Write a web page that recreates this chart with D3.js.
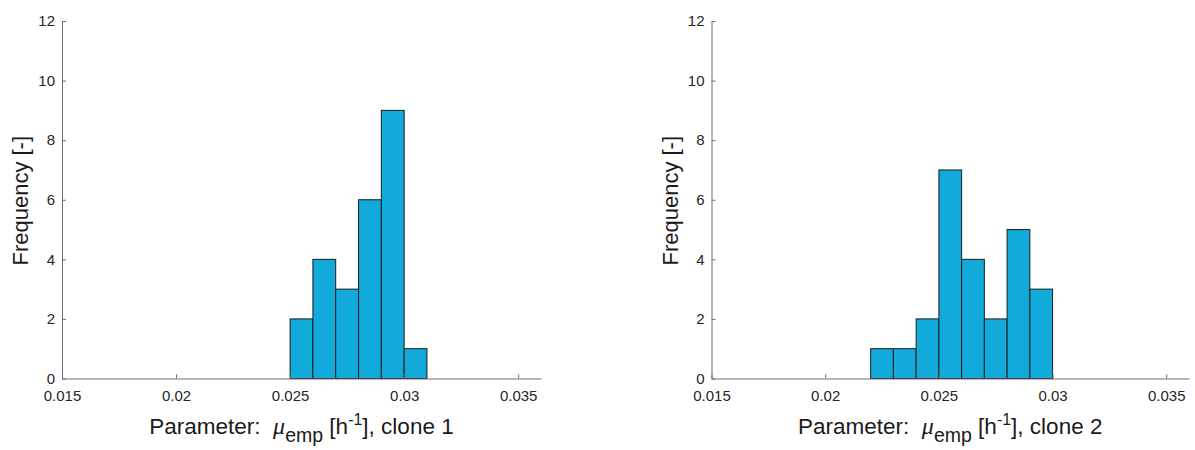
<!DOCTYPE html>
<html>
<head>
<meta charset="utf-8">
<script src="https://cdn.jsdelivr.net/npm/d3@7"></script>
<style>
  html, body { margin: 0; padding: 0; background: #fff; }
  svg { display: block; }
  text { font-family: "Liberation Sans", Arial, Helvetica, sans-serif; white-space: pre; }
</style>
</head>
<body>
<svg id="chart" width="1195" height="450"></svg>
<script>
// Histogram bin edges and counts, one set per clone
const binEdges1 = [0.025, 0.026, 0.027, 0.028, 0.029, 0.030, 0.031];
const counts1   = [2, 4, 3, 6, 9, 1];
const binEdges2 = [0.022, 0.023, 0.024, 0.025, 0.026, 0.027, 0.028, 0.029, 0.030];
const counts2   = [1, 1, 2, 7, 4, 2, 5, 3];

const xTicks = [0.015, 0.02, 0.025, 0.03, 0.035];
const xTickLabels = ["0.015", "0.02", "0.025", "0.03", "0.035"];
const yTicks = [0, 2, 4, 6, 8, 10, 12];
const xDomain = [0.015, 0.036];
const yDomain = [0, 12];
const cloneNames = ["clone 1", "clone 2"];

const svg = d3.select("#chart");

const panels = [
  { edges: binEdges1, counts: counts1, name: cloneNames[0], left: 62,    right: 541,  ylabX: 28 },
  { edges: binEdges2, counts: counts2, name: cloneNames[1], left: 711.5, right: 1189, ylabX: 678 }
];

const plotTop = 21, plotBottom = 378.5;
const axisColor = "#6e6e6e";
const barFill = "#12a9db";

panels.forEach(p => {
  const x = d3.scaleLinear().domain(xDomain).range([p.left, p.right]);
  const y = d3.scaleLinear().domain(yDomain).range([plotBottom, plotTop]);
  const g = svg.append("g");

  // bars
  const bins = p.counts.map((c, i) => ({ x0: p.edges[i], x1: p.edges[i + 1], n: c }));
  g.selectAll("rect.bar").data(bins).join("rect")
    .attr("class", "bar")
    .attr("x", d => x(d.x0))
    .attr("y", d => y(d.n))
    .attr("width", d => x(d.x1) - x(d.x0))
    .attr("height", d => y(0) - y(d.n))
    .attr("fill", barFill)
    .attr("stroke", "#1c1c1c")
    .attr("stroke-width", 1);

  // x axis (ticks pointing inward)
  const xAxis = d3.axisBottom(x).tickValues(xTicks)
    .tickFormat((d, i) => xTickLabels[i]).tickSizeInner(-4).tickSizeOuter(0).tickPadding(12);
  const gx = g.append("g").attr("transform", `translate(0,${plotBottom})`).call(xAxis);

  // y axis
  const yAxis = d3.axisLeft(y).tickValues(yTicks).tickFormat(d3.format("d"))
    .tickSizeInner(-4).tickSizeOuter(0).tickPadding(7);
  const gy = g.append("g").attr("transform", `translate(${p.left},0)`).call(yAxis);

  [gx, gy].forEach(a => {
    a.select(".domain").attr("stroke", axisColor).attr("stroke-width", 1);
    a.selectAll(".tick line").attr("stroke", axisColor);
    a.selectAll(".tick text").attr("fill", "#262626")
      .style("font-size", "15px")
      .style("font-family", "'Liberation Sans', Arial, sans-serif");
  });

  // y label
  g.append("text")
    .attr("transform", `translate(${p.ylabX},${(plotTop + plotBottom) / 2 + 1}) rotate(-90)`)
    .attr("text-anchor", "middle")
    .attr("fill", "#1a1a1a")
    .style("font-size", "22px")
    .text("Frequency [-]");

  // x label with italic mu, subscript and superscript
  const cx = (p.left + p.right) / 2;
  const t = g.append("text")
    .attr("x", cx).attr("y", 434)
    .attr("text-anchor", "middle")
    .attr("fill", "#1a1a1a")
    .style("font-size", "22.5px");
  t.append("tspan").text("Parameter:  ");
  t.append("tspan").style("font-style", "italic")
    .style("font-family", "'Liberation Serif', 'DejaVu Serif', serif").style("font-size", "24px")
    .text("\u03bc");
  t.append("tspan").attr("dy", 8).style("font-size", "19.5px").text("emp");
  t.append("tspan").attr("dy", -8).text(" [h");
  t.append("tspan").attr("dy", -9).style("font-size", "16px").text("-1");
  t.append("tspan").attr("dy", 9).text("], " + p.name);
});
</script>
</body>
</html>
